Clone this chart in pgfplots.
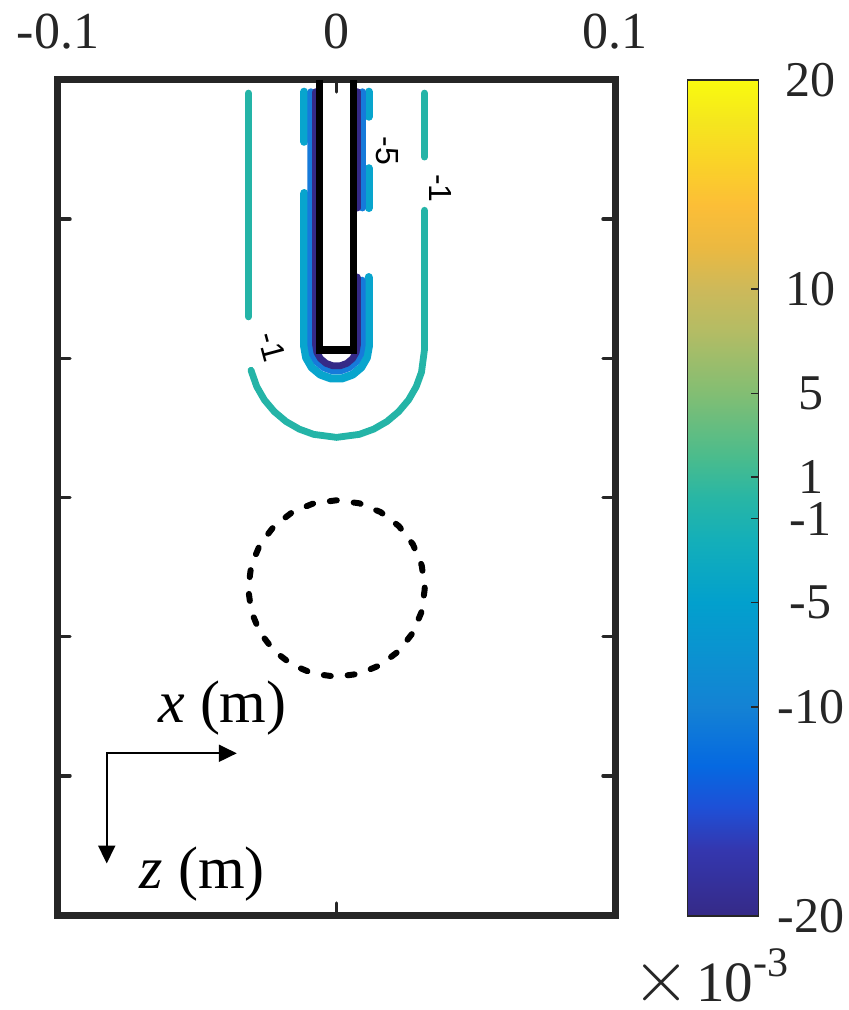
\documentclass[border=0pt]{standalone}
\usepackage{fontspec}
\setmainfont{Liberation Serif}
\newfontfamily\sansf{Liberation Sans}
\usepackage{pgfplots}
\pgfplotsset{compat=1.18}
\usetikzlibrary{arrows.meta}

\definecolor{axgray}{RGB}{38,38,38}
\definecolor{cm1}{RGB}{36,180,167}
\definecolor{cm5}{RGB}{8,165,205}
\definecolor{cm10}{RGB}{22,122,218}
\definecolor{cm20}{RGB}{53,42,135}

\pgfplotsset{colormap={parula}{rgb255(0cm)=(53,42,135) rgb255(8cm)=(52,55,175) rgb255(13cm)=(30,80,215) rgb255(18cm)=(5,105,225) rgb255(25cm)=(20,130,212) rgb255(32cm)=(10,148,208) rgb255(37.5cm)=(2,160,205) rgb255(45cm)=(20,175,185) rgb255(50cm)=(40,182,165) rgb255(55cm)=(75,188,140) rgb255(62.5cm)=(130,190,115) rgb255(70cm)=(180,188,100) rgb255(75cm)=(205,185,90) rgb255(80cm)=(235,185,65) rgb255(85cm)=(252,190,55) rgb255(90cm)=(250,210,40) rgb255(95cm)=(245,230,30) rgb255(100cm)=(249,251,14)}}

\begin{document}
\begin{tikzpicture}
\useasboundingbox (-29pt,-47.5pt) rectangle (395.5pt,457.5pt);
\begin{axis}[
  at={(0,0)}, anchor=south west,
  scale only axis, width=278.5pt, height=417.5pt,
  xmin=-0.1, xmax=0.1, ymin=0, ymax=0.3, y dir=reverse,
  xtick={-0.1,0,0.1}, xticklabels={-0.1,0,0.1},
  xticklabel pos=upper,
  xticklabel style={anchor=base, yshift=15.5pt, text=axgray, font=\fontsize{26}{26}\selectfont},
  ytick={0.05,0.1,0.15,0.2,0.25}, yticklabels={},
  tick align=inside, major tick length=6pt,
  major tick style={line width=1.7pt, axgray, line cap=round},
  axis line style={line width=3.5pt, axgray, line cap=round},
  colorbar, point meta min=-20, point meta max=20,
  colormap name=parula,
  colorbar/width=35.5pt,
  colorbar style={
    at={(parent axis.north east)}, anchor=north west, xshift=27.8pt,
    height=418pt,
    ytick={-20,-10,-5,-1,1,5,10,20}, yticklabels={-20,-10,-5,-1,1,5,10,20},
    yticklabel style={anchor=center, xshift=26pt, text=axgray, font=\fontsize{25}{25}\selectfont},
    ytick pos=right, tick align=inside, major tick length=4pt,
    major tick style={line width=0.6pt, axgray},
    axis line style={line width=0.8pt, axgray},
  },
]
% contour -5 (cyan)
\addplot[cm5, line width=4pt, line cap=round, line join=round] coordinates {(-0.0116,0.0042) (-0.0116,0.0222)};
\addplot[cm5, line width=4pt, line cap=round, line join=round] coordinates {(-0.0116,0.0406) (-0.0116,0.0958) (-0.0109,0.09975) (-0.00889,0.10326) (-0.0058,0.10585) (-0.00201,0.10722) (0.00201,0.10722) (0.0058,0.10585) (0.00889,0.10326) (0.0109,0.09975) (0.0116,0.0958) (0.0116,0.0708)};
\addplot[cm5, line width=4pt, line cap=round, line join=round] coordinates {(0.0116,0.0042) (0.0116,0.0132)};
\addplot[cm5, line width=4pt, line cap=round, line join=round] coordinates {(0.0116,0.0317) (0.0116,0.046)};
% contour -10 (blue)
\addplot[cm10, line width=3.4pt, line cap=round, line join=round] coordinates {(-0.0092,0.0042) (-0.0092,0.0954) (-0.00865,0.09855) (-0.00705,0.10131) (-0.0046,0.10337) (-0.0016,0.10446) (0.0016,0.10446) (0.0046,0.10337) (0.00705,0.10131) (0.00865,0.09855) (0.0092,0.0954) (0.0092,0.0719)};
\addplot[cm10, line width=3.4pt, line cap=round, line join=round] coordinates {(0.0092,0.0042) (0.0092,0.046)};
% contour -20 (purple)
\addplot[cm20, line width=3.4pt, line cap=round, line join=round] coordinates {(-0.0075,0.0042) (-0.0075,0.0953) (-0.00705,0.09787) (-0.00575,0.10012) (-0.00375,0.10180) (-0.0013,0.10269) (0.0013,0.10269) (0.00375,0.10180) (0.00575,0.10012) (0.00705,0.09787) (0.0075,0.0953) (0.0075,0.0708)};
\addplot[cm20, line width=3.4pt, line cap=round, line join=round] coordinates {(0.0075,0.0042) (0.0075,0.046)};
% rod
\addplot[black, line width=3.6pt, line join=miter] coordinates {(-0.006,0) (-0.006,0.097) (0.006,0.097) (0.006,0)};
% contour -1
\addplot[cm1, line width=3.4pt, line cap=round, line join=round] coordinates {(-0.0316,0.0047) (-0.0316,0.0851)};
\addplot[cm1, line width=3.4pt, line cap=round, line join=round] coordinates {(-0.0307,0.10428) (-0.02864,0.11015) (-0.02589,0.11493) (-0.02234,0.11914) (-0.01813,0.12269) (-0.01335,0.12544) (-0.00818,0.12732) (0,0.1284) (0.00818,0.12732) (0.01335,0.12544) (0.01813,0.12269) (0.02234,0.11914) (0.02589,0.11493) (0.02864,0.11015) (0.03052,0.10498) (0.0316,0.0968) (0.0316,0.0468)};
\addplot[cm1, line width=3.4pt, line cap=round, line join=round] coordinates {(0.0316,0.0047) (0.0316,0.0277)};
% dashed circle
\addplot[black, line width=3pt, line cap=round, dash pattern=on 3.5pt off 8.5pt] coordinates {(0.0317,0.1827) (0.03062,0.1909) (0.02745,0.19855) (0.02241,0.20511) (0.01585,0.21015) (0.0082,0.21332) (0,0.2144) (-0.0082,0.21332) (-0.01585,0.21015) (-0.02241,0.20511) (-0.02745,0.19855) (-0.03062,0.1909) (-0.0317,0.1827) (-0.03062,0.1745) (-0.02745,0.16685) (-0.02241,0.16029) (-0.01585,0.15525) (-0.0082,0.15208) (0,0.151) (0.0082,0.15208) (0.01585,0.15525) (0.02241,0.16029) (0.02745,0.16685) (0.03062,0.1745) (0.0317,0.1827)};
% contour labels
\node[rotate=-90, inner sep=0, font=\sansf\fontsize{16}{16}\selectfont] at (axis cs:0.0183,0.0255) {-5};
\node[rotate=-90, inner sep=0, font=\sansf\fontsize{16}{16}\selectfont] at (axis cs:0.0372,0.0389) {-1};
\node[rotate=-75, inner sep=0, font=\sansf\fontsize{16}{16}\selectfont] at (axis cs:-0.0232,0.0958) {-1};
% direction arrows
\draw[line width=1pt, line join=miter, {Triangle[length=9pt,width=8.5pt]}-{Triangle[length=9pt,width=8.5pt]}] (axis cs:-0.0825,0.2815) -- (axis cs:-0.0825,0.2419) -- (axis cs:-0.0358,0.2419);
\node[anchor=base west, inner sep=0, font=\fontsize{30}{30}\selectfont] at (axis cs:-0.0641,0.2309) {\textit{x} (m)};
\node[anchor=base west, inner sep=0, font=\fontsize{30}{30}\selectfont] at (axis cs:-0.0708,0.2903) {\textit{z} (m)};
\end{axis}
\node[anchor=base west, inner sep=0, text=axgray, font=\fontsize{28.5}{28.5}\selectfont] at (287pt,-43.35pt) {\scalebox{1.5}{$\times$}\hspace{3pt}10\raisebox{12.5pt}{\fontsize{21}{21}\selectfont -3}};
\end{tikzpicture}
\end{document}
